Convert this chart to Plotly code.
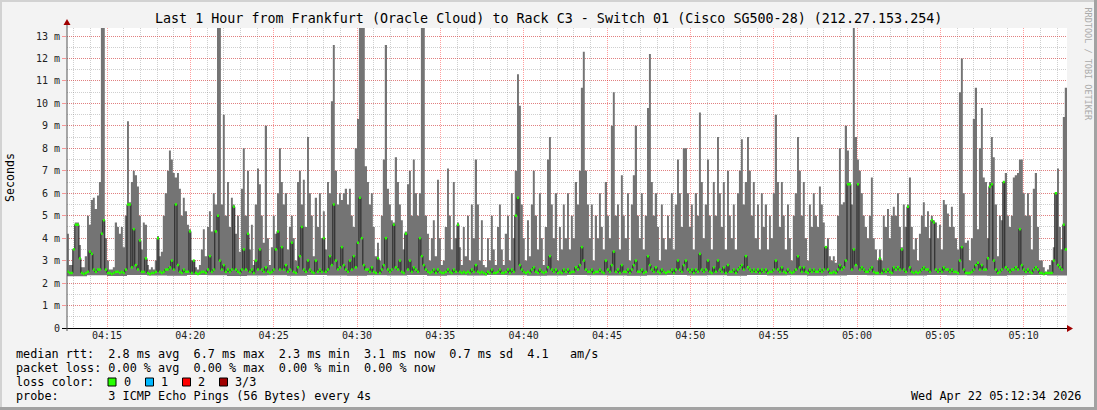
import plotly.graph_objects as go
import pandas as pd

# ---------------- data ----------------
start = pd.Timestamp("2026-04-22 04:12:36")
end = pd.Timestamp("2026-04-22 05:12:36")

# upper edge of the ping "smoke" (ms), 500 equal time slots (7.2 s each)
smoke_hi = [
    4.2, 2.8, 2.8, 3.5, 4.7, 4.7, 3.7, 2.7, 2.7, 3.2, 5.0, 4.6, 5.7, 5.8, 5.3, 5.9, 6.5, 14, 14, 4.0, 3.0, 2.6, 2.6, 2.7, 4.7,
    4.5, 4.2, 4.5, 3.6, 5.0, 9.2, 5.6, 6.5, 7.0, 6.8, 6.3, 5.0, 3.5, 4.7, 4.6, 2.8, 2.6, 2.7, 2.6, 3.0, 4.1, 3.2, 3.4, 5.0, 6.0,
    7.0, 7.9, 7.5, 6.9, 6.7, 6.9, 6.2, 5.0, 5.8, 5.2, 4.6, 4.4, 3.0, 3.0, 2.7, 2.6, 2.8, 3.5, 4.4, 3.2, 4.5, 5.2, 4.3, 6.0, 5.5,
    14, 14, 5.5, 9.5, 5.0, 6.5, 4.5, 5.8, 5.5, 4.2, 5.0, 3.4, 6.2, 8.0, 5.0, 7.0, 3.5, 4.6, 2.8, 5.5, 7.1, 6.4, 5.0, 3.8, 9.0,
    4.0, 2.8, 3.6, 5.0, 4.2, 6.0, 8.0, 6.5, 5.5, 6.0, 3.5, 4.5, 5.0, 4.0, 3.0, 6.5, 7.0, 5.5, 6.6, 4.5, 8.5, 6.0, 5.0, 3.2, 5.8,
    4.5, 6.0, 4.0, 5.2, 3.5, 6.5, 6.0, 10.1, 12.6, 7.0, 5.5, 6.0, 5.7, 6.0, 6.2, 5.5, 6.2, 5.0, 4.5, 8.0, 9.3, 14, 14, 14, 7.2,
    6.5, 5.5, 6.0, 4.5, 3.2, 3.8, 3.0, 5.0, 7.5, 12.6, 6.2, 5.5, 4.8, 4.7, 7.6, 6.5, 5.5, 4.8, 3.5, 4.3, 6.4, 7.0, 5.0, 7.5, 6.0,
    5.0, 6.0, 14, 14, 5.0, 4.2, 3.0, 4.0, 4.8, 3.2, 6.6, 4.0, 2.8, 3.0, 4.5, 7.1, 5.0, 3.5, 6.5, 4.0, 4.7, 3.6, 2.8, 4.5, 3.2,
    5.0, 3.0, 5.5, 4.0, 7.5, 5.5, 3.0, 4.8, 2.8, 2.7, 4.0, 3.0, 5.0, 3.5, 2.8, 4.5, 5.5, 3.5, 2.8, 4.2, 5.0, 3.0, 6.0, 4.0, 7.0,
    11.3, 9.9, 5.5, 4.0, 3.0, 4.8, 3.2, 5.5, 7.0, 5.0, 3.5, 6.0, 4.0, 2.8, 4.5, 7.5, 8.5, 5.5, 4.0, 6.0, 3.0, 4.5, 3.5, 5.5, 4.0,
    6.0, 3.5, 5.0, 4.0, 6.5, 5.5, 7.0, 10.7, 12.3, 7.0, 5.5, 4.0, 5.5, 3.0, 5.0, 4.0, 6.0, 4.5, 3.5, 6.5, 5.0, 4.0, 9.0, 10.5, 5.0,
    5.5, 3.5, 6.8, 5.0, 4.0, 6.0, 3.0, 5.5, 6.8, 9.0, 5.0, 4.0, 6.0, 3.5, 5.0, 9.8, 12.2, 6.5, 5.0, 6.0, 4.5, 3.0, 5.5, 4.0, 3.5,
    5.0, 4.0, 6.0, 3.5, 5.5, 7.5, 6.0, 4.5, 8.0, 8.0, 6.0, 4.5, 5.5, 3.5, 6.0, 5.0, 9.6, 6.5, 4.0, 5.5, 7.5, 5.0, 3.5, 6.5, 5.0,
    8.5, 6.0, 4.5, 6.5, 3.5, 7.0, 5.0, 4.0, 5.5, 3.5, 6.0, 7.0, 8.4, 5.5, 6.5, 8.5, 7.0, 5.0, 6.5, 4.0, 5.5, 3.5, 6.0, 4.5, 5.5,
    3.5, 5.0, 4.0, 6.0, 9.5, 6.5, 4.5, 6.5, 5.0, 3.5, 5.5, 4.0, 3.0, 5.0, 6.0, 8.5, 7.0, 5.0, 6.5, 4.0, 3.0, 5.5, 4.5, 6.0, 5.0,
    4.5, 6.3, 5.5, 4.7, 3.6, 4.0, 3.2, 3.0, 3.2, 2.9, 5.0, 8.0, 5.5, 5.6, 9.0, 7.9, 6.5, 5.5, 14, 8.5, 7.5, 7.0, 6.0, 5.0, 4.5,
    4.0, 5.0, 6.7, 4.0, 3.5, 3.0, 3.5, 3.0, 5.0, 4.5, 5.3, 4.0, 5.0, 5.4, 5.0, 6.0, 4.5, 3.6, 5.5, 4.5, 5.5, 6.7, 4.5, 3.5, 4.0,
    3.0, 4.2, 5.0, 5.6, 4.5, 5.2, 4.0, 5.0, 4.8, 4.7, 4.0, 4.6, 3.5, 5.7, 5.5, 5.1, 4.5, 5.4, 4.5, 4.0, 3.5, 10.5, 12.0, 6.0, 3.8,
    3.9, 3.0, 4.0, 9.3, 10.7, 4.4, 8.0, 9.8, 6.7, 6.5, 4.0, 6.5, 8.5, 7.6, 5.5, 3.2, 5.0, 4.8, 6.5, 6.9, 5.0, 4.5, 5.0, 6.7, 6.8,
    6.9, 7.5, 7.5, 6.0, 5.0, 6.0, 5.0, 3.5, 6.2, 6.9, 4.5, 3.0, 3.0, 2.7, 2.5, 2.6, 2.8, 3.0, 3.6, 6.0, 7.1, 4.5, 3.5, 9.4, 10.7,
]

# median rtt (ms), same slots
median_rtt = [
    2.5, 2.45, 2.45, 3.5, 4.6, 4.6, 3.1, 2.45, 2.4, 2.45, 2.5, 3.4, 3.3, 2.6, 2.5, 2.6, 2.6, 4.2, 4.8, 2.6, 2.45, 2.45, 2.4, 2.45, 2.5,
    2.5, 2.45, 2.5, 2.45, 2.6, 5.5, 5.5, 2.7, 4.4, 2.8, 2.6, 3.9, 2.5, 2.5, 3.1, 2.45, 2.4, 2.45, 2.45, 2.5, 4.0, 2.5, 2.45, 2.5, 2.6,
    2.6, 2.7, 3.0, 2.6, 5.5, 2.8, 2.5, 2.45, 2.6, 2.5, 2.5, 4.3, 2.45, 3.0, 2.45, 2.4, 2.45, 2.5, 2.5, 2.45, 2.6, 3.2, 2.5, 2.6, 4.3,
    5.0, 3.0, 2.6, 2.8, 2.5, 2.6, 2.5, 2.6, 5.4, 2.6, 2.5, 2.45, 2.6, 3.5, 2.6, 4.2, 2.5, 2.6, 2.45, 3.0, 2.6, 3.5, 2.6, 2.5, 2.7,
    2.5, 2.45, 2.5, 2.6, 3.5, 4.3, 2.6, 3.6, 2.6, 2.8, 2.5, 2.6, 3.8, 2.5, 2.45, 2.7, 3.2, 4.5, 2.6, 2.5, 3.0, 2.6, 2.5, 2.45, 3.0,
    2.5, 2.6, 2.5, 4.0, 2.5, 2.6, 3.2, 2.8, 5.5, 3.0, 2.6, 2.7, 3.6, 2.8, 2.6, 2.5, 3.0, 2.6, 3.2, 2.7, 3.8, 5.8, 4.0, 2.8, 2.6,
    2.6, 2.5, 2.7, 2.5, 2.45, 3.1, 2.45, 2.6, 2.8, 4.0, 2.6, 2.5, 2.6, 4.6, 2.7, 2.6, 3.0, 2.5, 2.45, 4.2, 2.6, 3.0, 2.5, 2.7, 2.6,
    2.5, 4.0, 3.2, 2.8, 2.6, 2.5, 2.45, 2.5, 2.6, 2.45, 2.6, 2.5, 2.45, 2.45, 2.5, 2.6, 2.5, 2.45, 2.6, 2.5, 4.6, 2.5, 2.45, 2.5, 2.45,
    2.5, 2.45, 2.6, 2.5, 2.8, 2.5, 2.45, 2.5, 2.45, 2.4, 2.5, 2.45, 2.6, 2.45, 2.45, 2.5, 2.6, 2.45, 2.45, 2.5, 2.6, 2.45, 2.6, 2.5, 5.0,
    5.8, 2.8, 2.6, 2.5, 2.45, 2.5, 2.45, 2.6, 2.7, 2.5, 2.45, 2.6, 2.5, 2.45, 2.5, 2.7, 3.2, 2.6, 2.5, 2.6, 2.45, 2.5, 2.45, 2.6, 2.5,
    2.6, 2.45, 2.5, 2.5, 2.7, 2.6, 2.8, 3.6, 3.0, 2.6, 2.5, 2.5, 2.6, 2.45, 2.5, 2.5, 2.6, 2.5, 2.45, 3.0, 2.6, 2.5, 2.8, 3.4, 2.5,
    2.6, 2.45, 2.8, 2.5, 2.5, 2.6, 2.45, 2.6, 2.8, 3.0, 2.5, 2.5, 2.6, 2.45, 2.5, 3.2, 2.8, 2.6, 2.5, 2.7, 2.5, 2.45, 2.6, 2.5, 2.45,
    2.5, 2.5, 2.6, 2.45, 2.6, 3.0, 2.6, 2.5, 2.8, 3.0, 2.6, 2.5, 2.6, 2.45, 2.6, 2.5, 3.3, 2.6, 2.5, 2.6, 3.0, 2.5, 2.45, 2.7, 2.5,
    3.0, 2.6, 2.5, 2.7, 2.45, 2.8, 2.5, 2.5, 2.6, 2.45, 2.6, 2.7, 2.8, 2.6, 3.2, 2.7, 2.6, 2.5, 2.6, 2.5, 2.6, 2.45, 2.6, 2.5, 2.6,
    2.45, 2.5, 2.5, 2.6, 3.0, 2.6, 2.5, 2.7, 2.5, 2.45, 2.6, 2.5, 2.45, 2.5, 2.6, 3.2, 2.7, 2.5, 2.7, 2.5, 2.45, 2.6, 2.5, 2.6, 2.5,
    2.5, 2.6, 2.5, 2.6, 3.6, 2.6, 2.45, 2.45, 2.5, 2.45, 2.6, 2.8, 2.6, 2.7, 3.0, 6.4, 6.4, 2.6, 3.5, 2.8, 6.4, 2.6, 2.7, 2.6, 2.5,
    2.5, 2.6, 2.7, 2.5, 2.45, 2.45, 3.1, 2.45, 2.6, 2.5, 2.6, 2.5, 2.45, 2.7, 2.6, 2.7, 2.6, 3.5, 2.6, 2.5, 5.4, 2.7, 2.5, 2.45, 2.5,
    2.45, 2.5, 2.6, 2.7, 2.6, 2.6, 2.5, 4.8, 4.7, 2.6, 2.5, 2.6, 2.5, 2.7, 2.6, 2.6, 2.5, 2.6, 2.5, 2.5, 2.45, 3.0, 3.6, 2.6, 2.45,
    2.45, 2.45, 2.5, 2.6, 2.8, 2.9, 2.6, 2.8, 2.6, 2.6, 3.1, 6.3, 6.4, 3.0, 2.6, 2.45, 2.5, 2.6, 6.5, 2.7, 2.6, 2.5, 2.6, 2.6, 2.7,
    2.6, 4.4, 2.8, 2.6, 2.5, 2.6, 2.5, 2.45, 2.6, 2.7, 2.6, 2.45, 2.45, 2.4, 2.45, 2.45, 2.45, 2.45, 3.0, 6.0, 2.8, 2.7, 2.6, 4.6, 3.5,
]

# lower edge of the smoke (fastest ping, ms), coarser slots
smoke_lo = [
    2.30, 2.35, 2.32, 2.36, 2.34, 2.33, 2.36, 2.35, 2.32, 2.34,
    2.35, 2.33, 2.36, 2.34, 2.33, 2.35, 2.34, 2.36, 2.33, 2.35,
    2.34, 2.36, 2.35, 2.33, 2.34, 2.36, 2.35, 2.34, 2.33, 2.35,
    2.36, 2.34, 2.35, 2.33, 2.36, 2.34, 2.35, 2.33, 2.34, 2.36,
    2.35, 2.33, 2.34, 2.36, 2.35, 2.34, 2.33, 2.35, 2.36, 2.34,
]

y_ticks = list(range(14))
y_tick_text = ["0"] + [f"{v} m" for v in y_ticks[1:]]

legend_lines = [
    "median rtt:  2.8 ms avg  6.7 ms max  2.3 ms min  3.1 ms now  0.7 ms sd  4.1   am/s",
    "packet loss: 0.00 % avg  0.00 % max  0.00 % min  0.00 % now",
    "loss color:",
    "probe:       3 ICMP Echo Pings (56 Bytes) every 4s",
]
loss_labels = ["0", "1", "2", "3/3"]
loss_colors = ["#26ff00", "#00b8ff", "#ff0000", "#a00000"]
title_text = "Last 1 Hour from Frankfurt (Oracle Cloud) to Rack C3 - Switch 01 (Cisco SG500-28) (212.27.153.254)"
date_text = "Wed Apr 22 05:12:34 2026"

# ---------------- build ----------------
FONT = "DejaVu Sans Mono"
W, H = 1097, 410
L, R, T, B = 67, 1067, 28, 328


def px(x):
    return (x - L) / (R - L)


def py(y):
    return (B - y) / (B - T)


def nb(s):
    return s.replace(" ", "\u00a0")


def steps(edges, vals):
    xs, ys = [], []
    for i, v in enumerate(vals):
        xs += [edges[i], edges[i + 1]]
        ys += [v, v]
    return xs, ys


N = len(smoke_hi)
t = [start + i * (end - start) / N for i in range(N + 1)]
M = len(smoke_lo)
t_lo = [start + i * (end - start) / M for i in range(M + 1)]

lo_x, lo_y = steps(t_lo, smoke_lo)
hi_x, hi_y = steps(t, smoke_hi)
md_x, md_y = steps(t, median_rtt)

fig = go.Figure()
fig.add_trace(go.Scatter(x=lo_x, y=lo_y, mode="lines", line=dict(width=0, simplify=False),
                         hoverinfo="skip", showlegend=False))
fig.add_trace(go.Scatter(x=hi_x, y=hi_y, mode="lines", line=dict(width=0, simplify=False),
                         fill="tonexty", fillcolor="#747474", hoverinfo="skip", showlegend=False))
fig.add_trace(go.Scatter(x=md_x, y=md_y, mode="lines", line=dict(width=1, color="#202020", simplify=False),
                         hoverinfo="skip", showlegend=False))
gx, gy = [], []
for i, m in enumerate(median_rtt):
    gx += [t[i], t[i + 1], None]
    gy += [m, m, None]
fig.add_trace(go.Scatter(x=gx, y=gy, mode="lines", line=dict(width=2.5, color=loss_colors[0], simplify=False),
                         hoverinfo="skip", showlegend=False))

red_grid = "rgba(255,0,0,0.38)"
gray_grid = "rgba(128,128,128,0.38)"

fig.update_layout(
    width=W, height=H,
    margin=dict(l=L, r=W - R, t=T, b=H - B),
    paper_bgcolor="#f3f3f3", plot_bgcolor="#ffffff",
    showlegend=False,
    font=dict(family=FONT, size=10, color="#222"),
    xaxis=dict(
        type="date", range=[start, end],
        tick0="2026-04-22 04:15:00", dtick=300000, tickformat="%H:%M",
        showgrid=True, gridcolor=red_grid, griddash="1px,1px", gridwidth=1,
        minor=dict(tick0="2026-04-22 04:15:00", dtick=60000, showgrid=True,
                   gridcolor=gray_grid, griddash="1px,1px", gridwidth=1),
        showline=False, zeroline=False, ticks="",
        tickfont=dict(family=FONT, size=10, color="#222"),
    ),
    yaxis=dict(
        range=[0, (B - T) / 22.46], tickvals=y_ticks, ticktext=y_tick_text,
        showgrid=True, gridcolor=red_grid, griddash="1px,1px", gridwidth=1,
        minor=dict(dtick=0.5, showgrid=True, gridcolor=gray_grid, griddash="1px,1px", gridwidth=1),
        showline=False, zeroline=False, ticks="outside", ticklen=4, tickcolor=red_grid,
        tickfont=dict(family=FONT, size=10, color="#222"),
    ),
)

shapes = []
# frame
shapes.append(dict(type="rect", xref="paper", yref="paper", x0=px(0), x1=px(W), y0=py(0), y1=py(2),
                   fillcolor="#d2d2d2", line=dict(width=0)))
shapes.append(dict(type="rect", xref="paper", yref="paper", x0=px(0), x1=px(2), y0=py(0), y1=py(H),
                   fillcolor="#d2d2d2", line=dict(width=0)))
shapes.append(dict(type="rect", xref="paper", yref="paper", x0=px(0), x1=px(W), y0=py(H - 3), y1=py(H),
                   fillcolor="#a2a2a2", line=dict(width=0)))
shapes.append(dict(type="rect", xref="paper", yref="paper", x0=px(W - 3), x1=px(W), y0=py(0), y1=py(H),
                   fillcolor="#a2a2a2", line=dict(width=0)))
# axes with arrows
shapes.append(dict(type="line", xref="paper", yref="paper", x0=px(62), x1=px(1068), y0=py(328.5), y1=py(328.5),
                   line=dict(color="#000000", width=1), layer="above"))
shapes.append(dict(type="line", xref="paper", yref="paper", x0=px(67), x1=px(67), y0=py(331), y1=py(23),
                   line=dict(color="#555555", width=1), layer="above"))
shapes.append(dict(type="path", xref="paper", yref="paper",
                   path=f"M {px(63.5)} {py(25)} L {px(70.5)} {py(25)} L {px(67)} {py(19)} Z",
                   fillcolor="#a00000", line=dict(width=0), layer="above"))
shapes.append(dict(type="path", xref="paper", yref="paper",
                   path=f"M {px(1067)} {py(325)} L {px(1067)} {py(332)} L {px(1073)} {py(328.5)} Z",
                   fillcolor="#a00000", line=dict(width=0), layer="above"))
# loss colour boxes
box_x = [108, 145.5, 182.5, 219.5]
label_x = [121.5, 158.5, 195.5, 232.5]
for bx, c in zip(box_x, loss_colors):
    shapes.append(dict(type="rect", xref="paper", yref="paper", x0=px(bx), x1=px(bx + 8),
                       y0=py(386), y1=py(378), fillcolor=c, line=dict(color="#000000", width=1)))
fig.update_layout(shapes=shapes)

ann = []
ann.append(dict(text=nb(title_text), x=px(548), y=py(19), xref="paper", yref="paper",
                xanchor="center", yanchor="middle", showarrow=False,
                font=dict(family=FONT, size=13.35, color="#000000")))
ann.append(dict(text="Seconds", x=px(10), y=py(178), xref="paper", yref="paper", textangle=-90,
                xanchor="center", yanchor="middle", showarrow=False,
                font=dict(family=FONT, size=11.6, color="#000000")))
ann.append(dict(text=nb("RRDTOOL / TOBI OETIKER"), x=px(1088), y=py(5), xref="paper", yref="paper",
                textangle=90, xanchor="center", yanchor="top", showarrow=False,
                font=dict(family=FONT, size=8.5, color="#aaaaaa")))
line_y = [354, 368, 382, 396]
for txt, yy in zip(legend_lines, line_y):
    ann.append(dict(text=nb(txt), x=px(14), y=py(yy), xref="paper", yref="paper",
                    xanchor="left", yanchor="middle", showarrow=False,
                    font=dict(family=FONT, size=11.8, color="#000000")))
for lx, lab in zip(label_x, loss_labels):
    ann.append(dict(text=lab, x=px(lx), y=py(382), xref="paper", yref="paper",
                    xanchor="left", yanchor="middle", showarrow=False,
                    font=dict(family=FONT, size=11.8, color="#000000")))
ann.append(dict(text=nb(date_text), x=px(1083), y=py(396), xref="paper", yref="paper",
                xanchor="right", yanchor="middle", showarrow=False,
                font=dict(family=FONT, size=11.8, color="#000000")))
fig.update_layout(annotations=ann)

fig.write_html("out.html", config={"displayModeBar": False},
               post_script="document.body.style.margin='0';document.body.style.overflow='hidden';")
